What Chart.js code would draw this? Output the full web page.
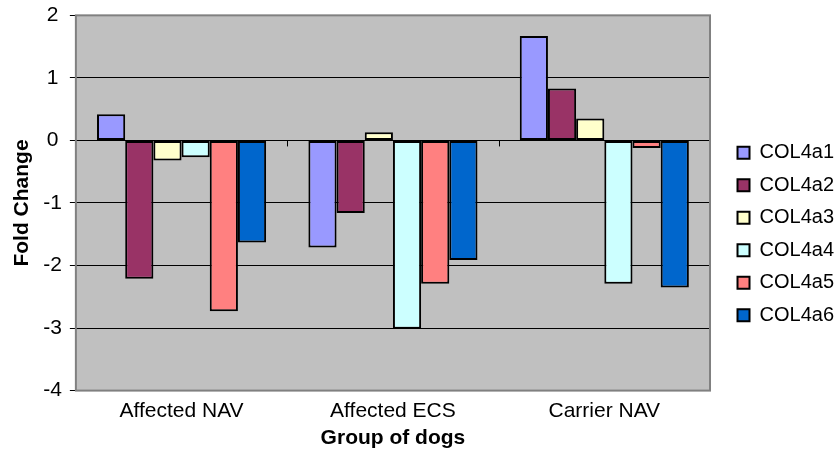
<!DOCTYPE html>
<html>
<head>
<meta charset="utf-8">
<title>Fold Change</title>
<script src="https://cdn.jsdelivr.net/npm/chart.js@4.4.0/dist/chart.umd.min.js"></script>
<style>
  html, body { margin: 0; padding: 0; background: #ffffff; }
  #wrap { width: 835px; height: 454px; }
</style>
</head>
<body>
<div id="wrap"><canvas id="chart" width="835" height="454"></canvas></div>
<script>
// Categories and series
const categories = ['Affected NAV', 'Affected ECS', 'Carrier NAV'];
const seriesNames = ['COL4a1', 'COL4a2', 'COL4a3', 'COL4a4', 'COL4a5', 'COL4a6'];
const col4a1 = [0.42, -1.71, 1.67];
const col4a2 = [-2.21, -1.16, 0.83];
const col4a3 = [-0.32, 0.13, 0.35];
const col4a4 = [-0.27, -3.01, -2.29];
const col4a5 = [-2.73, -2.29, -0.12];
const col4a6 = [-1.63, -1.91, -2.35];
const yTicks = [-4, -3, -2, -1, 0, 1, 2];

const seriesValues = [col4a1, col4a2, col4a3, col4a4, col4a5, col4a6];
const seriesColors = ['#9999FF', '#993366', '#FFFFCC', '#CCFFFF', '#FF8080', '#0066CC'];

const FONT = "'Liberation Sans', Arial, sans-serif";

// Grey plot area with its frame, like the old Excel charts
const plotArea = {
  id: 'plotArea',
  afterLayout(chart) {
    // push the legend a bit away from the plot
    const lg = chart.legend;
    lg.left += 15; lg.right += 15;
    lg.top += 7; lg.bottom += 7;
  },
  beforeDraw(chart) {
    const { ctx, chartArea: a } = chart;
    ctx.save();
    ctx.fillStyle = '#C0C0C0';
    ctx.fillRect(a.left, a.top, a.right - a.left, a.bottom - a.top);
    ctx.restore();
  },
  afterDatasetsDraw(chart) {
    const { ctx, chartArea: a, scales } = chart;
    ctx.save();
    ctx.strokeStyle = '#808080';
    ctx.lineWidth = 2;
    ctx.strokeRect(a.left, a.top, a.right - a.left, a.bottom - a.top);
    // small category ticks on the zero line
    const y0 = scales.y.getPixelForValue(0);
    ctx.strokeStyle = '#000000';
    ctx.lineWidth = 1;
    for (let i = 0; i < categories.length - 1; i++) {
      const x = Math.round(scales.x.getPixelForValue(i + 0.5)) + 0.5;
      ctx.beginPath();
      ctx.moveTo(x, y0);
      ctx.lineTo(x, y0 + 6);
      ctx.stroke();
    }
    ctx.restore();
  }
};

const datasets = seriesNames.map((name, i) => ({
  label: name,
  data: seriesValues[i],
  backgroundColor: seriesColors[i],
  borderColor: '#000000',
  borderWidth: 2,
  borderSkipped: false,
  categoryPercentage: 0.8,
  barPercentage: 1.0
}));

new Chart(document.getElementById('chart'), {
  type: 'bar',
  data: { labels: categories, datasets: datasets },
  options: {
    responsive: false,
    animation: false,
    layout: { padding: { top: 0, right: 6, bottom: 0, left: 10 } },
    plugins: {
      legend: {
        position: 'right',
        labels: {
          color: '#000000',
          font: { family: FONT, size: 20 },
          boxWidth: 12,
          boxHeight: 12,
          padding: 12.5
        }
      },
      tooltip: { enabled: false }
    },
    scales: {
      x: {
        grid: { display: false, drawTicks: false },
        border: { display: false },
        ticks: { color: '#000000', font: { family: FONT, size: 21 }, padding: 8 },
        title: {
          display: true,
          text: 'Group of dogs',
          color: '#000000',
          font: { family: FONT, size: 21, weight: 'bold' },
          padding: { top: -6, bottom: 3 }
        }
      },
      y: {
        min: -4,
        max: 2,
        afterBuildTicks(scale) {
          scale.ticks = yTicks.map(v => ({ value: v }));
        },
        grid: { color: '#000000', lineWidth: 1, tickLength: 6, tickColor: '#000000' },
        border: { display: false },
        ticks: { color: '#000000', font: { family: FONT, size: 21, lineHeight: 0.7 }, padding: 8, crossAlign: 'center' },
        title: {
          display: true,
          text: 'Fold Change',
          color: '#000000',
          font: { family: FONT, size: 21, weight: 'bold' },
          padding: { top: 0, bottom: 0 }
        }
      }
    }
  },
  plugins: [plotArea]
});
</script>
</body>
</html>
